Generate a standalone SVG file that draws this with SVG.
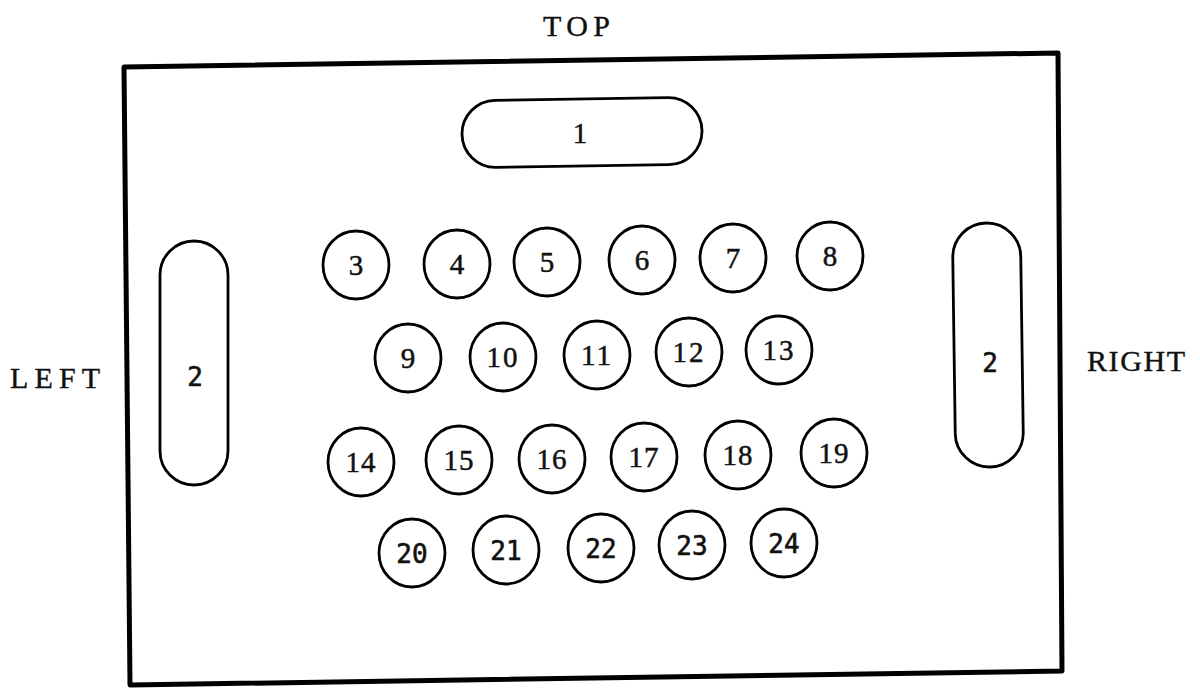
<svg xmlns="http://www.w3.org/2000/svg" width="1200" height="688" viewBox="0 0 1200 688">
<style>
.bg{fill:#fff}
.frame{fill:none;stroke:#000;stroke-width:5;stroke-linejoin:round}
.sh{fill:none;stroke:#000;stroke-width:2.8}
.lbl{font-family:"Liberation Serif","DejaVu Serif",serif;font-size:29px;fill:#111;stroke:#111;stroke-width:0.5}
.cap{font-family:"Liberation Serif","DejaVu Serif",serif;font-size:30px;fill:#111;stroke:#111;stroke-width:0.4}
.mono{font-family:"DejaVu Sans Mono","Liberation Mono",monospace;font-size:26px;fill:#111;stroke:#111;stroke-width:0.6}
</style>
<rect class="bg" width="1200" height="688"/>
<text class="cap" x="543" y="36" textLength="67" lengthAdjust="spacing">TOP</text>
<text class="cap" x="10" y="388" textLength="90" lengthAdjust="spacing">LEFT</text>
<text class="cap" x="1087" y="371" textLength="98" lengthAdjust="spacing">RIGHT</text>
<g id="frame"><polygon class="frame" points="124,67 1058,53 1062,671 130,685"/></g>
<g id="connectors"/>
<g id="n1"><rect class="sh" x="462" y="99" width="240" height="67" rx="33.5" transform="rotate(-0.9 582 132)"/><text class="lbl" x="580" y="143" text-anchor="middle">1</text></g>
<g id="n2L"><rect class="sh" x="160" y="241" width="68" height="244" rx="34"/><text class="mono" x="195" y="386" text-anchor="middle">2</text></g>
<g id="n2R"><rect class="sh" x="954" y="223" width="68" height="244" rx="34" transform="rotate(-0.8 988 345)"/><text class="mono" x="990" y="372" text-anchor="middle">2</text></g>
<g id="n3"><ellipse class="sh" cx="356" cy="265" rx="33" ry="34"/><text class="lbl" x="356" y="275" text-anchor="middle">3</text></g>
<g id="n4"><ellipse class="sh" cx="457" cy="264" rx="33" ry="34"/><text class="lbl" x="457" y="274" text-anchor="middle">4</text></g>
<g id="n5"><ellipse class="sh" cx="547" cy="262" rx="33" ry="34"/><text class="lbl" x="547" y="272" text-anchor="middle">5</text></g>
<g id="n6"><ellipse class="sh" cx="642" cy="260" rx="33" ry="34"/><text class="lbl" x="642" y="270" text-anchor="middle">6</text></g>
<g id="n7"><ellipse class="sh" cx="733" cy="258" rx="33" ry="34"/><text class="lbl" x="733" y="268" text-anchor="middle">7</text></g>
<g id="n8"><ellipse class="sh" cx="830" cy="256" rx="33" ry="34"/><text class="lbl" x="830" y="266" text-anchor="middle">8</text></g>
<g id="n9"><ellipse class="sh" cx="408" cy="358" rx="33" ry="34"/><text class="lbl" x="408" y="368" text-anchor="middle">9</text></g>
<g id="n10"><ellipse class="sh" cx="503" cy="357" rx="33" ry="34"/><text class="lbl" x="503" y="367" text-anchor="middle" letter-spacing="2">10</text></g>
<g id="n11"><ellipse class="sh" cx="597" cy="355" rx="33" ry="34"/><text class="lbl" x="597" y="365" text-anchor="middle" letter-spacing="2">11</text></g>
<g id="n12"><ellipse class="sh" cx="689" cy="352" rx="33" ry="34"/><text class="lbl" x="689" y="362" text-anchor="middle" letter-spacing="2">12</text></g>
<g id="n13"><ellipse class="sh" cx="779" cy="350" rx="33" ry="34"/><text class="lbl" x="779" y="360" text-anchor="middle" letter-spacing="2">13</text></g>
<g id="n14"><ellipse class="sh" cx="361" cy="462" rx="33" ry="34"/><text class="lbl" x="361" y="472" text-anchor="middle" letter-spacing="1">14</text></g>
<g id="n15"><ellipse class="sh" cx="459" cy="460" rx="33" ry="34"/><text class="lbl" x="459" y="470" text-anchor="middle" letter-spacing="1">15</text></g>
<g id="n16"><ellipse class="sh" cx="552" cy="459" rx="33" ry="34"/><text class="lbl" x="552" y="469" text-anchor="middle" letter-spacing="1">16</text></g>
<g id="n17"><ellipse class="sh" cx="644" cy="457" rx="33" ry="34"/><text class="lbl" x="644" y="467" text-anchor="middle" letter-spacing="1">17</text></g>
<g id="n18"><ellipse class="sh" cx="738" cy="455" rx="33" ry="34"/><text class="lbl" x="738" y="465" text-anchor="middle" letter-spacing="1">18</text></g>
<g id="n19"><ellipse class="sh" cx="834" cy="453" rx="33" ry="34"/><text class="lbl" x="834" y="463" text-anchor="middle" letter-spacing="1">19</text></g>
<g id="n20"><ellipse class="sh" cx="412" cy="553" rx="33" ry="34"/><text class="mono" x="412" y="563" text-anchor="middle">20</text></g>
<g id="n21"><ellipse class="sh" cx="506" cy="550" rx="33" ry="34"/><text class="mono" x="506" y="560" text-anchor="middle">21</text></g>
<g id="n22"><ellipse class="sh" cx="601" cy="548" rx="33" ry="34"/><text class="mono" x="601" y="558" text-anchor="middle">22</text></g>
<g id="n23"><ellipse class="sh" cx="692" cy="545" rx="33" ry="34"/><text class="mono" x="692" y="555" text-anchor="middle">23</text></g>
<g id="n24"><ellipse class="sh" cx="784" cy="543" rx="33" ry="34"/><text class="mono" x="784" y="553" text-anchor="middle">24</text></g>
</svg>
